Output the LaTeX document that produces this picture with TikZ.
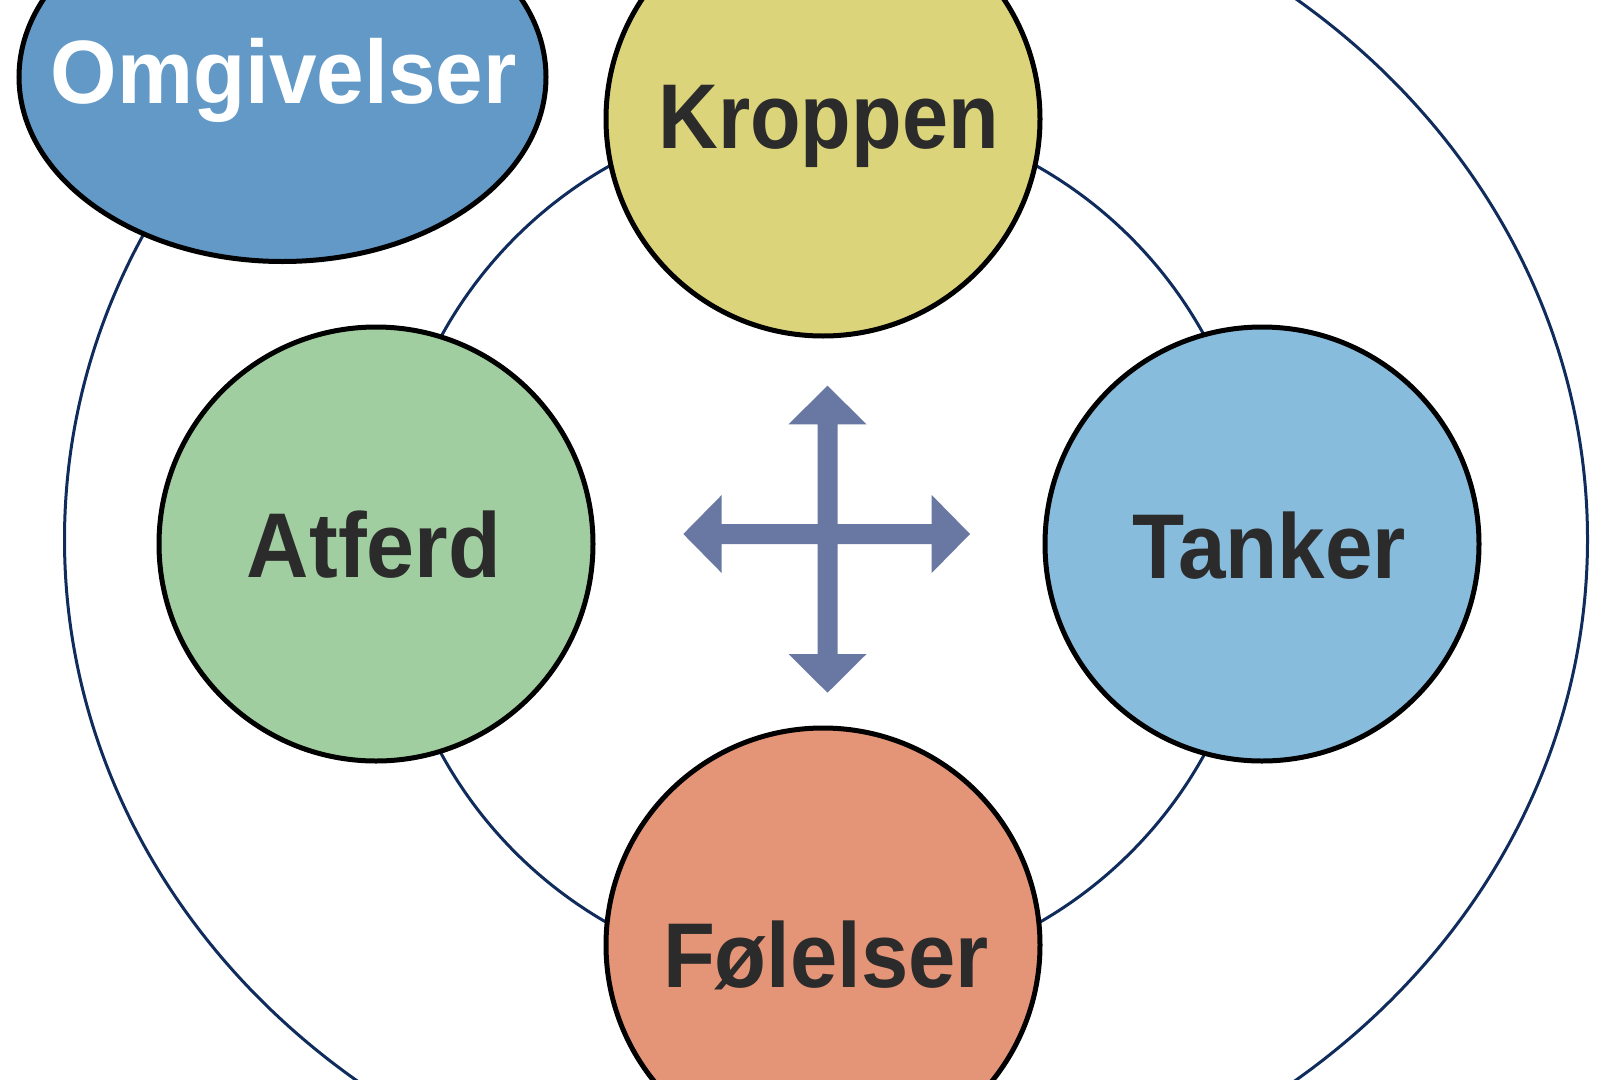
\documentclass[tikz,border=0pt]{standalone}
\usepackage{fontspec}
\setmainfont{Liberation Sans}
\usetikzlibrary{shapes.geometric}
\definecolor{omgc}{HTML}{6399C7}
\definecolor{kroc}{HTML}{DCD47A}
\definecolor{atfc}{HTML}{A0CEA0}
\definecolor{tanc}{HTML}{88BCDD}
\definecolor{folc}{HTML}{E49578}
\definecolor{arrc}{HTML}{6878A2}
\definecolor{navy}{HTML}{102C5C}
\definecolor{txtc}{HTML}{2B2B2B}
\begin{document}
\begin{tikzpicture}[x=1pt,y=-1pt,
  bubble/.style={circle, draw=black, line width=5pt, minimum size=434pt, inner sep=0pt},
  lbl/.style={anchor=base, font=\fontsize{92}{100}\selectfont\bfseries, text=txtc, inner sep=0pt},
  ring/.style={draw=navy, line width=3pt}]
\useasboundingbox (0,0) rectangle (1617,1079);
\clip (0,0) rectangle (1617,1079);
\fill[white] (0,0) rectangle (1617,1079);
% rings
\draw[ring] (826,539.5) ellipse [x radius=761.5pt, y radius=687pt];
\draw[ring] (823,545) circle [radius=435pt];
% bubbles
\node[bubble, fill=kroc] (kro) at (823,119) {};
\node[bubble, fill=atfc] (atf) at (376,544) {};
\node[bubble, fill=tanc] (tan) at (1262,544) {};
\node[bubble, fill=folc] (fol) at (823,945) {};
\node[ellipse, draw=black, line width=5pt, fill=omgc, minimum width=527pt, minimum height=369pt, inner sep=0pt] (omg) at (282.5,77) {};
% labels
\node[lbl] (kroT) at (828.5,148) {\scalebox{0.9}[1]{Kroppen}};
\node[lbl] (atfT) at (374,577) {\scalebox{0.938}[1]{Atferd}};
\node[lbl] (tanT) at (1269,578) {\scalebox{0.928}[1]{Tanker}};
\node[lbl] (folT) at (826,987) {\scalebox{0.924}[1]{Følelser}};
\node[lbl, text=white, font=\fontsize{90}{100}\selectfont\bfseries] (omgT) at (283.6,103) {\scalebox{0.95}[1]{Omgivelser}};
% four-way arrow
\fill[arrc] (817.5,424.3) -- (788.5,424.3) -- (827.5,385.7) -- (866.5,424.3) -- (837.5,424.3)
  -- (837.5,524) -- (931.7,524) -- (931.7,495) -- (970,534) -- (931.7,573) -- (931.7,544)
  -- (837.5,544) -- (837.5,654) -- (866.5,654) -- (827.5,692.7) -- (788.5,654) -- (817.5,654)
  -- (817.5,544) -- (721.7,544) -- (721.7,573) -- (683.3,534) -- (721.7,495) -- (721.7,524)
  -- (817.5,524) -- cycle;
\end{tikzpicture}
\end{document}
